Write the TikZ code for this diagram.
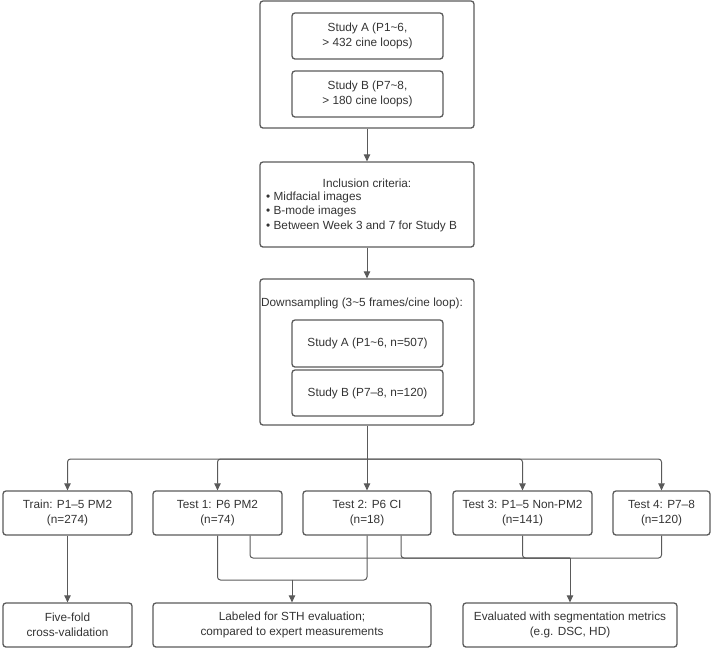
\documentclass[tikz,border=0pt]{standalone}
\usepackage{fontspec}
\setmainfont{Liberation Sans}
\usetikzlibrary{arrows.meta}
\definecolor{edge}{HTML}{5A5A5A}
\definecolor{ink}{HTML}{333333}
\begin{document}
\begin{tikzpicture}[x=1pt, y=-1pt,
    font=\fontsize{11.8}{14.5}\selectfont, text=ink,
    box/.style={draw=edge, line width=1.3pt, rounded corners=3pt, align=center, inner sep=0pt},
    line/.style={draw=edge, line width=1pt, rounded corners=3pt},
    arr/.style={line, -{Triangle[length=7pt, width=6.5pt]}}]
    \useasboundingbox (0,0) rectangle (713,649);

    % top: studies
    \node[box, minimum width=214pt, minimum height=127pt] (top) at (367,64.5) {};
    \node[box, minimum width=151pt, minimum height=46pt] (A1) at (367.5,36) {Study A (P1\textasciitilde6,\\> 432 cine loops)};
    \node[box, minimum width=151pt, minimum height=46pt] (B1) at (367.5,94) {Study B (P7\textasciitilde8,\\> 180 cine loops)};

    % inclusion criteria
    \node[box, minimum width=214pt, minimum height=85pt] (incl) at (367,204.5) {};
    \node (inclT) at (367,183) {Inclusion criteria:};
    \node[anchor=west, align=left, inner sep=0pt] (inclL) at (266,211.5)
        {• Midfacial images\\• B-mode images\\• Between Week 3 and 7 for Study B};

    % downsampling
    \node[box, minimum width=214pt, minimum height=146pt] (down) at (367,352) {};
    \node (downT) at (362,303) {Downsampling (3\textasciitilde5 frames/cine loop):};
    \node[box, minimum width=151pt, minimum height=47pt] (A2) at (367.5,343.5) {Study A (P1\textasciitilde6, n=507)};
    \node[box, minimum width=151pt, minimum height=46pt] (B2) at (367.5,393) {Study B (P7–8, n=120)};

    % split sets
    \node[box, minimum width=129pt, minimum height=44pt] (train) at (67.5,513) {Train: P1–5 PM2\\(n=274)};
    \node[box, minimum width=129pt, minimum height=44pt] (T1) at (217.5,513) {Test 1: P6 PM2\\(n=74)};
    \node[box, minimum width=128pt, minimum height=44pt] (T2) at (367,513) {Test 2: P6 CI\\(n=18)};
    \node[box, minimum width=139pt, minimum height=44pt] (T3) at (522.5,513) {Test 3: P1–5 Non-PM2\\(n=141)};
    \node[box, minimum width=97pt, minimum height=44pt] (T4) at (661.5,513) {Test 4: P7–8\\(n=120)};

    % outcomes
    \node[box, minimum width=129pt, minimum height=44pt] (five) at (67.5,625) {Five-fold\\cross-validation};
    \node[box, minimum width=278pt, minimum height=44pt] (lab) at (292,625) {Labeled for STH evaluation;\\compared to expert measurements};
    \node[box, minimum width=214pt, minimum height=44pt] (eval) at (570,625) {Evaluated with segmentation metrics\\(e.g. DSC, HD)};

    \coordinate (split) at (367,459);
    \coordinate (J1) at (292,580);
    \coordinate (J2) at (570,558);

    % 線を引く
    \draw[arr] (top) -- (incl);
    \draw[arr] (incl) -- (down);
    \draw[line] (down.south) -- (split);
    \draw[arr] (split) -| (train.north);
    \draw[arr] (split) -| (T1.north);
    \draw[arr] (split) -- (T2.north);
    \draw[arr] (split) -| (T3.north);
    \draw[arr] (split) -| (T4.north);
    \draw[arr] (train) -- (five);

    % STH group
    \draw[line] (T1.south) |- (J1);
    \draw[line] (T2.south) |- (J1);
    \draw[arr] (J1) -- (lab.north);

    % segmentation group
    \draw[line] ([xshift=32.5pt]T1.south) |- (J2);
    \draw[line] ([xshift=34pt]T2.south) |- (J2);
    \draw[line] (T3.south) |- (J2);
    \draw[line] (T4.south) |- (J2);
    \draw[arr] (J2) -- (eval.north);
\end{tikzpicture}
\end{document}
